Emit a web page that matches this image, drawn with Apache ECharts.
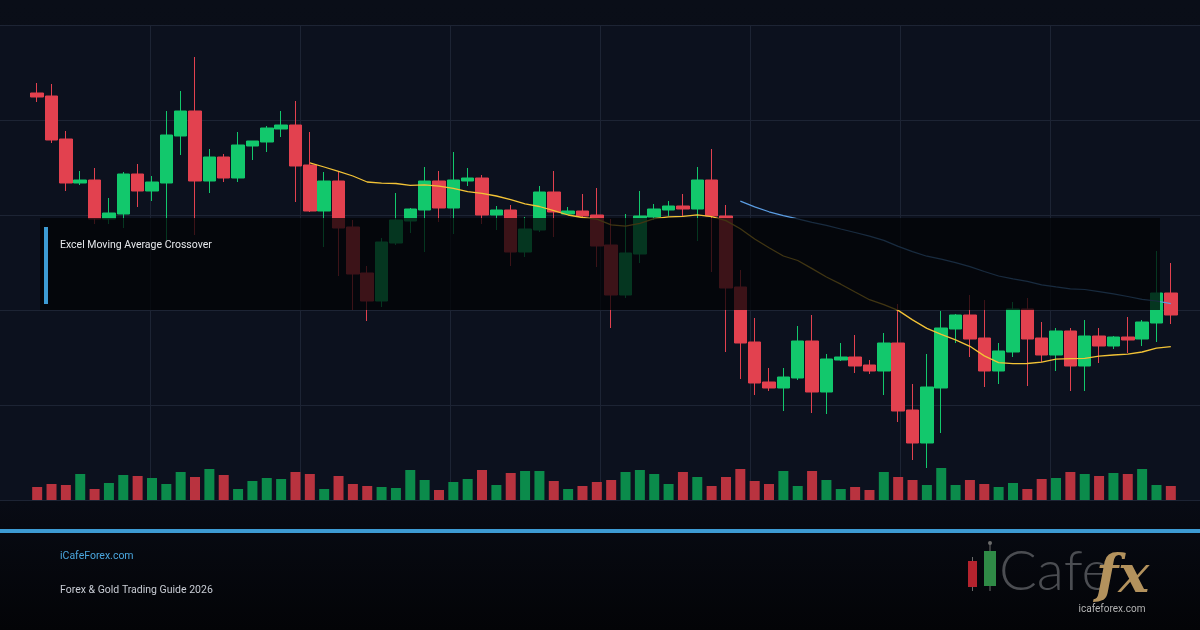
<!DOCTYPE html>
<html>
<head>
<meta charset="utf-8">
<script src="https://cdn.jsdelivr.net/npm/echarts@6/dist/echarts.min.js"></script>
<style>
  html, body { margin: 0; padding: 0; background: #080b14; }
  #chart { width: 1200px; height: 630px; }
</style>
</head>
<body>
<div id="chart"></div>
<script>
// OHLC (price units, one per session)
const open = [
  2307, 2304, 2261, 2217, 2220, 2181, 2186, 2226, 2209, 2217, 2264, 2289, 2219, 2243, 2222, 2254, 2258, 2271, 2275, 2235,
  2189, 2219, 2173, 2127, 2099, 2157, 2179, 2190, 2219, 2192, 2219, 2222, 2185, 2190, 2148, 2170, 2208, 2186, 2189, 2185,
  2155, 2105, 2146, 2183, 2190, 2194, 2191, 2220, 2184, 2113, 2058, 2018, 2012, 2022, 2059, 2008, 2040, 2043, 2035, 2029,
  2057, 1990, 1957, 2012, 2071, 2085, 2062, 2029, 2048, 2091, 2062, 2045, 2069, 2034, 2064, 2054, 2063, 2061, 2077, 2107
]
const close = [
  2303, 2260, 2217, 2220, 2181, 2187, 2226, 2209, 2218, 2265, 2289, 2219, 2243, 2222, 2255, 2259, 2272, 2275, 2234, 2189,
  2219, 2172, 2126, 2099, 2158, 2180, 2191, 2219, 2192, 2220, 2222, 2185, 2190, 2148, 2171, 2208, 2188, 2189, 2184, 2154,
  2105, 2147, 2184, 2191, 2194, 2191, 2220, 2184, 2112, 2057, 2017, 2012, 2023, 2059, 2008, 2041, 2043, 2034, 2029, 2057,
  1989, 1957, 2013, 2072, 2085, 2061, 2029, 2049, 2091, 2061, 2045, 2069, 2034, 2064, 2054, 2063, 2060, 2078, 2107, 2085
]
const low = [
  2298, 2257, 2209, 2215, 2176, 2176, 2172, 2193, 2199, 2160, 2245, 2165, 2207, 2218, 2218, 2240, 2248, 2263, 2198, 2188,
  2153, 2124, 2090, 2079, 2093, 2155, 2167, 2148, 2178, 2166, 2214, 2176, 2170, 2134, 2143, 2168, 2163, 2185, 2183, 2133,
  2072, 2102, 2137, 2180, 2184, 2183, 2159, 2128, 2048, 2021, 2005, 2009, 1989, 2020, 1987, 1986, 2039, 2027, 2026, 2005,
  1978, 1940, 1932, 1967, 2057, 2043, 2013, 2016, 2043, 2014, 2038, 2029, 2009, 2009, 2037, 2051, 2047, 2054, 2058, 2076
]
const high = [
  2317, 2316, 2269, 2229, 2232, 2202, 2228, 2236, 2224, 2289, 2309, 2343, 2251, 2246, 2268, 2259, 2274, 2289, 2299, 2268,
  2228, 2228, 2180, 2134, 2162, 2207, 2192, 2233, 2229, 2248, 2232, 2225, 2194, 2195, 2183, 2214, 2229, 2193, 2206, 2212,
  2181, 2186, 2209, 2196, 2199, 2206, 2233, 2251, 2195, 2130, 2082, 2032, 2032, 2074, 2085, 2046, 2057, 2065, 2040, 2067,
  2096, 2016, 2046, 2089, 2086, 2105, 2100, 2057, 2098, 2102, 2078, 2072, 2072, 2080, 2072, 2064, 2083, 2080, 2149, 2137
]
const volume = [
  39, 48, 45, 78, 33, 51, 75, 72, 66, 48, 84, 69, 93, 75, 33, 57, 66, 63, 84, 78,
  33, 72, 48, 42, 39, 36, 90, 60, 30, 54, 63, 90, 45, 81, 87, 87, 57, 33, 42, 54,
  60, 84, 90, 78, 48, 84, 69, 42, 69, 93, 57, 48, 87, 42, 87, 60, 33, 39, 30, 84,
  69, 60, 45, 96, 45, 60, 48, 39, 51, 33, 63, 66, 84, 78, 72, 81, 78, 93, 45, 42
]
// moving averages as drawn (fast line from session 20, slow line from session 50)
const maFast = [
  2237.2, 2233.0, 2228.6, 2224.0, 2218.0, 2216.8, 2216.5, 2214.7, 2215.2, 2213.9,
  2211.7, 2208.3, 2206.6, 2204.0, 2200.3, 2196.1, 2193.5, 2189.3, 2185.0, 2182.5,
  2180.8, 2175.1, 2173.8, 2176.7, 2181.3, 2183.1, 2183.7, 2185.1, 2183.4, 2179.4,
  2171.2, 2161.0, 2152.3, 2144.0, 2139.5, 2131.4, 2123.0, 2115.8, 2108.0, 2100.3,
  2095.4, 2089.6, 2080.1, 2071.6, 2065.6, 2060.2, 2053.7, 2044.1, 2037.4, 2036.3,
  2036.5, 2037.9, 2040.8, 2041.3, 2041.6, 2043.9, 2045.0, 2045.8, 2048.0, 2051.9,
  2053.3
]
const maSlow = [
  2198.9, 2193.1, 2188.2, 2184.3, 2181.1, 2177.6, 2174.7, 2171.0, 2167.5, 2163.8,
  2159.6, 2153.6, 2148.4, 2143.8, 2140.8, 2137.4, 2133.4, 2128.5, 2124.0, 2121.2,
  2118.6, 2115.1, 2113.1, 2111.2, 2110.5, 2108.4, 2106.1, 2103.5, 2100.7, 2099.0,
  2096.3
]
const sessions = Array.from({ length: open.length }, (_, i) => `D${i + 1}`)

const UP = '#12c86c'
const DOWN = '#e2414f'
const VOL_UP = '#0b8b4b'
const VOL_DOWN = '#b9333f'
const GRID_LINE = '#1d2434'

const pad = (n) => new Array(n).fill('-')
const candles = open.map((o, i) => [o, close[i], low[i], high[i]])
const volBars = volume.map((v, i) => ({
  value: v,
  itemStyle: { color: close[i] >= open[i] ? VOL_UP : VOL_DOWN }
}))

const chart = echarts.init(document.getElementById('chart'), null, { renderer: 'canvas' })

const hidden = { show: false }

chart.setOption({
  animation: false,
  backgroundColor: new echarts.graphic.LinearGradient(0, 0, 0, 1, [
    { offset: 0, color: '#0a0e18' },
    { offset: 0.8, color: '#080b14' },
    { offset: 1, color: '#030407' }
  ]),
  grid: [
    // full-width frame with the lattice
    { left: 0, right: 0, top: 25, bottom: 130, show: true, backgroundColor: '#0c111e', borderWidth: 0 },
    // prices
    { left: 30, right: 22, top: 25, bottom: 130 },
    // volume
    { left: 30, right: 22, top: 455, bottom: 130 }
  ],
  xAxis: [
    {
      gridIndex: 0, type: 'value', min: 0, max: 1200, interval: 150,
      axisLine: hidden, axisTick: hidden, axisLabel: hidden,
      splitLine: { show: true, showMinLine: false, showMaxLine: false, lineStyle: { color: GRID_LINE, width: 1 } }
    },
    {
      gridIndex: 1, type: 'category', data: sessions, boundaryGap: true,
      axisLine: hidden, axisTick: hidden, axisLabel: hidden, splitLine: hidden
    },
    {
      gridIndex: 2, type: 'category', data: sessions, boundaryGap: true,
      axisLine: hidden, axisTick: hidden, axisLabel: hidden, splitLine: hidden
    }
  ],
  yAxis: [
    {
      gridIndex: 0, type: 'value', min: 0, max: 475, interval: 95,
      axisLine: hidden, axisTick: hidden, axisLabel: hidden,
      splitLine: { show: true, lineStyle: { color: GRID_LINE, width: 1 } }
    },
    {
      gridIndex: 1, type: 'value', min: 1900, max: 2375, interval: 95,
      axisLine: hidden, axisTick: hidden, axisLabel: hidden, splitLine: hidden
    },
    {
      gridIndex: 2, type: 'value', min: 0, max: 135,
      axisLine: hidden, axisTick: hidden, axisLabel: hidden, splitLine: hidden
    }
  ],
  series: [
    {
      name: 'Price',
      type: 'candlestick',
      xAxisIndex: 1,
      yAxisIndex: 1,
      barWidth: 13,
      data: candles,
      itemStyle: {
        color: UP,
        color0: DOWN,
        borderColor: UP,
        borderColor0: DOWN,
        borderWidth: 1
      }
    },
    {
      name: 'MA fast',
      type: 'line',
      xAxisIndex: 1,
      yAxisIndex: 1,
      symbol: 'none',
      data: pad(19).concat(maFast),
      lineStyle: { color: '#f3c336', width: 1.3 },
      z: 3
    },
    {
      name: 'MA slow',
      type: 'line',
      xAxisIndex: 1,
      yAxisIndex: 1,
      symbol: 'none',
      data: pad(49).concat(maSlow),
      lineStyle: { color: '#5b9de2', width: 1.2 },
      z: 3
    },
    {
      name: 'Volume',
      type: 'bar',
      xAxisIndex: 2,
      yAxisIndex: 2,
      barWidth: 10,
      data: volBars
    }
  ],
  graphic: [
    // title panel laid over the chart
    { type: 'rect', z: 100, shape: { x: 40, y: 218, width: 1120, height: 92 }, style: { fill: 'rgba(2,3,6,0.74)' } },
    { type: 'rect', z: 101, shape: { x: 44, y: 227, width: 4, height: 77 }, style: { fill: '#3d9bd3' } },
    {
      type: 'text', z: 101, x: 60, y: 245,
      style: { text: 'Excel Moving Average Crossover', fill: '#e6e8ec', font: '10.5px Roboto', verticalAlign: 'middle' }
    },
    // footer
    { type: 'rect', z: 100, shape: { x: 0, y: 529, width: 1200, height: 4 }, style: { fill: '#3d9bd3' } },
    {
      type: 'text', z: 101, x: 60, y: 556,
      style: { text: 'iCafeForex.com', fill: '#4aa6de', font: '10.5px Roboto', verticalAlign: 'middle' }
    },
    {
      type: 'text', z: 101, x: 60, y: 590,
      style: { text: 'Forex & Gold Trading Guide 2026', fill: '#c9cdd5', font: '10.5px Roboto', verticalAlign: 'middle' }
    },
    // logo
    { type: 'rect', z: 101, shape: { x: 972, y: 557, width: 1, height: 34 }, style: { fill: '#6b6b6b' } },
    { type: 'rect', z: 102, shape: { x: 968, y: 561, width: 9, height: 26 }, style: { fill: '#b4232e' } },
    { type: 'rect', z: 101, shape: { x: 989.5, y: 543, width: 1, height: 48 }, style: { fill: '#6b6b6b' } },
    { type: 'circle', z: 101, shape: { cx: 990, cy: 543, r: 2 }, style: { fill: '#6b6b6b' } },
    { type: 'rect', z: 102, shape: { x: 984, y: 551, width: 12, height: 35 }, style: { fill: '#2f8a46' } },
    {
      type: 'text', z: 101, x: 999, y: 572,
      style: { text: 'Cafe', fill: '#4b4d52', font: '300 56px Lato', verticalAlign: 'middle' }
    },
    {
      type: 'text', z: 102, x: 1096, y: 578,
      style: { text: 'fx', fill: '#b3925d', font: 'italic bold 52px "DejaVu Serif"', verticalAlign: 'middle' }
    },
    {
      type: 'text', z: 103, x: 1112, y: 609,
      style: { text: 'icafeforex.com', fill: '#b4b4b4', font: '10px Roboto', align: 'center', verticalAlign: 'middle' }
    }
  ]
})
</script>
</body>
</html>
